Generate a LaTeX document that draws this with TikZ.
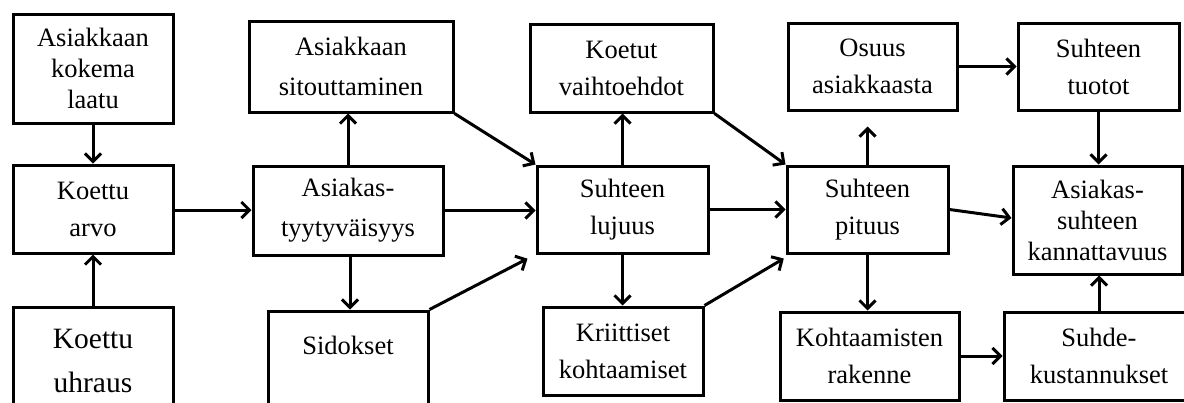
\documentclass[tikz,border=0pt]{standalone}
\usepackage{fontspec}
\setmainfont{Liberation Serif}
\usetikzlibrary{arrows.meta,calc}
\tikzset{
  blk/.style={draw, line width=3pt, rectangle, inner sep=0pt, align=center,
              font=\fontsize{26.5pt}{37pt}\selectfont},
  tri/.style={font=\fontsize{26.5pt}{31pt}\selectfont},
  roomy/.style={font=\fontsize{26.5pt}{40pt}\selectfont},
  large/.style={font=\fontsize{29.5pt}{44pt}\selectfont},
  conn/.style={line width=3pt, -{Straight Barb[length=8pt,width=16pt]}},
}
\begin{document}
\begin{tikzpicture}[x=1pt,y=-1pt]
\clip (0,0) rectangle (1184,402);
\fill[white] (0,0) rectangle (1184,402);

% first column
\node[blk, tri, minimum width=160pt, minimum height=109pt] (laatu) at (93,68.5) {Asiakkaan\\kokema\\laatu};
\node[blk, minimum width=160pt, minimum height=88pt] (arvo) at (93,209) {Koettu\\arvo};
\node[blk, large, minimum width=160pt, minimum height=108pt] (uhraus) at (93,361) {Koettu\\uhraus};

% second column
\node[blk, roomy, minimum width=204pt, minimum height=91pt] (sitout) at (351,66.5) {Asiakkaan\\sitouttaminen};
\node[blk, roomy, minimum width=190pt, minimum height=89pt] (tyyt) at (348,210.5) {Asiakas-\\tyytyväisyys};
\node[blk, font=\fontsize{26.5pt}{41pt}\selectfont, minimum width=160pt, minimum height=109pt] (sidos) at (348,365.5) {Sidokset\\\mbox{}};

% third column
\node[blk, minimum width=183pt, minimum height=88pt] (vaiht) at (621.5,68) {Koetut\\vaihtoehdot};
\node[blk, minimum width=171pt, minimum height=87pt] (lujuus) at (622.5,209.5) {Suhteen\\lujuus};
\node[blk, minimum width=160pt, minimum height=88pt] (kriit) at (623,351) {Kriittiset\\kohtaamiset};

% fourth column
\node[blk, minimum width=169pt, minimum height=87pt] (osuus) at (872.5,66.5) {Osuus\\asiakkaasta};
\node[blk, minimum width=161pt, minimum height=87pt] (pituus) at (867.5,209.5) {Suhteen\\pituus};
\node[blk, minimum width=179pt, minimum height=88pt] (rakenne) at (869.5,356) {Kohtaamisten\\rakenne};

% fifth column
\node[blk, minimum width=161pt, minimum height=87pt] (tuotot) at (1098.5,66.5) {Suhteen\\tuotot};
\node[blk, tri, minimum width=169pt, minimum height=108pt] (kann) at (1097.5,220) {Asiakas-\\suhteen\\kannattavuus};
\node[blk, minimum width=190pt, minimum height=88pt] (kust) at (1099,356) {Suhde-\\kustannukset};

% connectors
\draw[conn] (laatu.south) -- (arvo.north);
\draw[conn] (uhraus.north) -- (arvo.south);
\draw[conn] ([yshift=-1pt]arvo.east) -- ([yshift=-1pt]arvo.east -| tyyt.west);
\draw[conn] (tyyt.north) -- (tyyt.north |- sitout.south);
\draw[conn] ([xshift=2pt]tyyt.south) -- ([xshift=2pt]tyyt.south |- sidos.north);
\draw[conn] (sitout.south east) -- (lujuus.north west);
\draw[conn] (tyyt.east) -- (tyyt.east -| lujuus.west);
\draw[conn, shorten >=9pt] (sidos.north east) -- (lujuus.south west);
\draw[conn] (lujuus.north) -- (lujuus.north |- vaiht.south);
\draw[conn] (lujuus.south) -- (lujuus.south |- kriit.north);
\draw[conn] (vaiht.south east) -- (pituus.north west);
\draw[conn] (lujuus.east) -- (lujuus.east -| pituus.west);
\draw[conn, shorten >=2pt] (kriit.north east) -- ([yshift=-3pt]pituus.south west);
\draw[conn, shorten >=15pt] (pituus.north) -- (pituus.north |- osuus.south);
\draw[conn] (osuus.east) -- (osuus.east -| tuotot.west);
\draw[conn] (tuotot.south) -- (tuotot.south |- kann.north);
\draw[conn] (pituus.east) -- ([yshift=2pt]kann.west);
\draw[conn] (pituus.south) -- (pituus.south |- rakenne.north);
\draw[conn] (rakenne.east) -- (rakenne.east -| kust.west);
\draw[conn] (kust.north) -- (kust.north |- kann.south);
\end{tikzpicture}
\end{document}
